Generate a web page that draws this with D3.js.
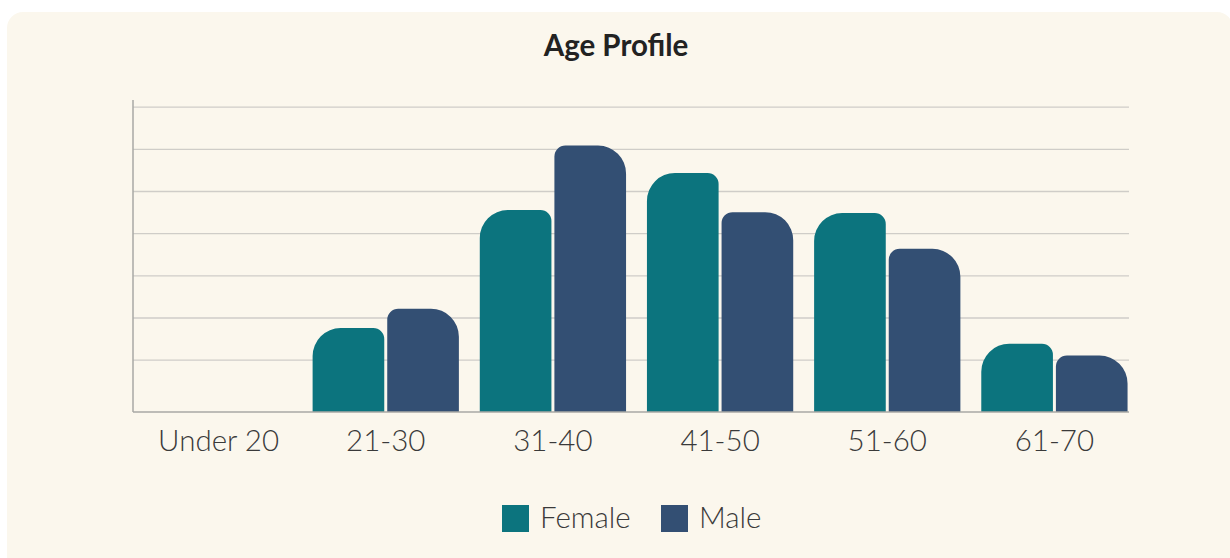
<!DOCTYPE html>
<html>
<head>
<meta charset="utf-8">
<script src="https://cdn.jsdelivr.net/npm/d3@7"></script>
<style>
  html, body { margin: 0; padding: 0; background: #ffffff; }
  svg { display: block; font-family: Lato, "Open Sans", sans-serif; }
</style>
</head>
<body>
<div id="vis-container"></div>
<script>
// age bands along the x axis
var categories = ["Under 20", "21-30", "31-40", "41-50", "51-60", "61-70"];
var seriesNames = ["Female", "Male"];
// values (chart units)
var femaleValues = [0, 19.9, 47.9, 56.7, 47.2, 16.2];
var maleValues   = [0, 24.5, 63.2, 47.4, 38.7, 13.4];
// horizontal guide lines (no labels shown)
var gridValues = [12.3, 22.3, 32.3, 42.3, 52.3, 62.3, 72.3];
var colors = {Female: "#0c747e", Male: "#334f73"};

var W = 1230, H = 558;

var svg = d3.select("#vis-container")
  .append("svg")
  .attr("width", W)
  .attr("height", H);

//card background
svg.append("rect")
  .attr("x", 7).attr("y", 12)
  .attr("width", 1226).attr("height", 580)
  .attr("rx", 16)
  .attr("fill", "#fbf7ed");

svg.append("text")
  .attr("x", 616).attr("y", 56)
  .attr("text-anchor", "middle")
  .style("font-size", "29.5px")
  .style("font-weight", "bold")
  .style("fill", "#222")
  .text("Age Profile");

var plot = {left: 133, right: 1129, top: 100, bottom: 412};

var y = d3.scaleLinear()
  .domain([0, 74])
  .range([plot.bottom, plot.top]);

var x0 = d3.scaleBand()
  .domain(categories)
  .range([135, 1138])
  .paddingInner(0.125)
  .paddingOuter(0.0625);

var x1 = d3.scaleBand()
  .domain(seriesNames)
  .range([0, x0.bandwidth()])
  .paddingInner(0.04);

//gridlines
svg.append("g")
  .selectAll("line")
  .data(gridValues)
  .enter()
  .append("line")
  .attr("x1", plot.left).attr("x2", plot.right)
  .attr("y1", d => y(d)).attr("y2", d => y(d))
  .attr("stroke", "#cfcdc8")
  .attr("stroke-width", 1.3);

// bar with different corner radius on each top side
function barPath(x, w, top, bottom, rl, rr) {
  var h = bottom - top;
  rl = Math.min(rl, h, w / 2);
  rr = Math.min(rr, h, w / 2);
  return "M" + x + "," + bottom +
    "V" + (top + rl) +
    "A" + rl + "," + rl + " 0 0 1 " + (x + rl) + "," + top +
    "H" + (x + w - rr) +
    "A" + rr + "," + rr + " 0 0 1 " + (x + w) + "," + (top + rr) +
    "V" + bottom + "Z";
}

var rows = categories.map((c, i) => ({cat: c, Female: femaleValues[i], Male: maleValues[i]}));

var groups = svg.append("g")
  .selectAll("g")
  .data(rows)
  .enter()
  .append("g")
  .attr("transform", d => "translate(" + x0(d.cat) + ",0)");

groups.selectAll("path")
  .data(d => seriesNames.map(k => ({key: k, value: d[k]})))
  .enter()
  .filter(d => d.value > 0)
  .append("path")
  .attr("d", d => {
    var rl = d.key == "Female" ? 28 : 11;
    var rr = d.key == "Female" ? 11 : 28;
    return barPath(x1(d.key), x1.bandwidth(), y(d.value), y(0), rl, rr);
  })
  .attr("fill", d => colors[d.key]);

//axes lines
svg.append("line")
  .attr("x1", plot.left).attr("x2", plot.left)
  .attr("y1", plot.top).attr("y2", plot.bottom)
  .attr("stroke", "#a9a8a4").attr("stroke-width", 1.5);
svg.append("line")
  .attr("x1", plot.left).attr("x2", plot.right)
  .attr("y1", plot.bottom).attr("y2", plot.bottom)
  .attr("stroke", "#a9a8a4").attr("stroke-width", 1.5);

svg.append("g")
  .selectAll("text")
  .data(categories)
  .enter()
  .append("text")
  .attr("x", d => x0(d) + x0.bandwidth() / 2)
  .attr("y", 451)
  .attr("text-anchor", "middle")
  .style("font-size", "29.5px")
  .style("font-weight", 300)
  .style("fill", "#3a3a3a")
  .text(d => d);

//legend
var legendX = [502, 661];
var legend = svg.append("g")
  .selectAll("g")
  .data(seriesNames)
  .enter()
  .append("g")
  .attr("transform", (d, i) => "translate(" + legendX[i] + ",505)");

legend.append("rect")
  .attr("width", 27).attr("height", 27)
  .attr("fill", d => colors[d]);

legend.append("text")
  .attr("x", 38).attr("y", 22.5)
  .style("font-size", "29.5px")
  .style("font-weight", 300)
  .style("fill", "#3a3a3a")
  .text(d => d);
</script>
</body>
</html>
